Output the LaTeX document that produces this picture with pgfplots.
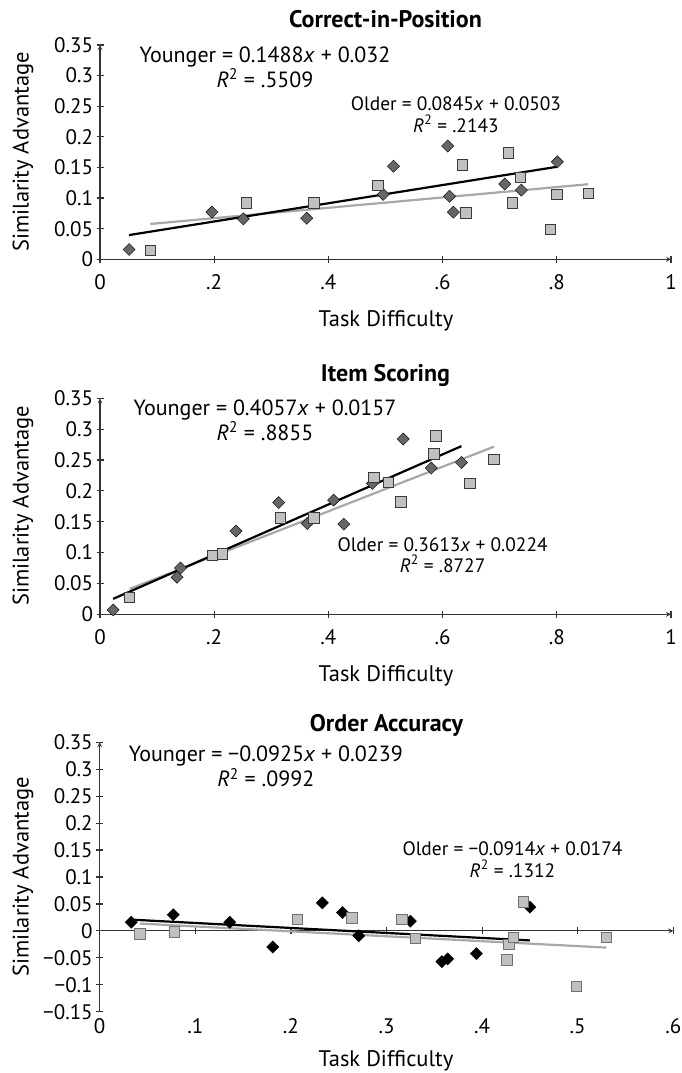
\documentclass[border=0pt]{standalone}
\usepackage{pgfplots}
\pgfplotsset{compat=1.18}
\usepackage{fontspec}
\setmainfont{PT Sans}

\definecolor{young}{HTML}{666666}
\definecolor{oldfill}{HTML}{C0C0C0}
\definecolor{oldedge}{HTML}{3A3A3A}
\definecolor{oldedgeb}{HTML}{707070}
\definecolor{oldline}{HTML}{A8A8A8}
\definecolor{axisgray}{HTML}{333333}

\newcommand{\ticksize}{\fontsize{21}{25}\selectfont}
\newcommand{\labsize}{\fontsize{22.5}{26}\selectfont}
\newcommand{\eqsize}{\fontsize{22}{26}\selectfont}
\newcommand{\eqsmall}{\fontsize{19.4}{23}\selectfont}
\newcommand{\titlesize}{\fontsize{24}{28}\selectfont\bfseries}

\pgfplotsset{
  panel/.style={
    scale only axis, anchor=south west,
    axis line style={axisgray, line width=1.2pt, -},
    tick style={axisgray, line width=1.2pt},
    tick align=outside,
    major tick length=7pt,
    ticklabel style={font=\ticksize},
    /pgf/number format/assume math mode=true,
    clip=false,
  },
  ymark/.style={only marks, mark=square*, mark size=4.3pt,
    mark options={rotate=45, fill=#1, draw=none}},
  ymark/.default=young,
  omark/.style={only marks, mark=square*, mark size=5.2pt,
    mark options={fill=oldfill, draw=#1, line width=0.9pt}},
  omark/.default=oldedge,
  yline/.style={black, line width=2.2pt, no marks},
  oline/.style={oldline, line width=2.2pt, no marks},
}
\tikzset{txt/.style={anchor=base, inner sep=0pt}}

\begin{document}
\begin{tikzpicture}
\path[use as bounding box] (0,0) rectangle (681pt,-1073pt);

% ---- Correct-in-Position
\begin{axis}[panel,
  at={(100pt,-259.3pt)}, width=571pt, height=214.3pt,
  axis lines=left,
  xmin=0, xmax=1, ymin=0, ymax=0.35,
  xtick={0,0.2,0.4,0.6,0.8,1}, xticklabels={0,.2,.4,.6,.8,1},
  ytick={0,0.05,0.1,0.15,0.2,0.25,0.3,0.35},
  yticklabels={0,0.05,0.1,0.15,0.2,0.25,0.3,0.35},
  xticklabel style={anchor=base, yshift=-27pt},
]
\addplot[ymark] coordinates {
(0.051,0.016) (0.196,0.077) (0.251,0.066) (0.362,0.067) (0.496,0.106)
(0.514,0.152) (0.609,0.185) (0.612,0.103) (0.619,0.077) (0.709,0.123)
(0.738,0.113) (0.801,0.159)};
\addplot[omark] coordinates {
(0.088,0.014) (0.256,0.092) (0.375,0.092) (0.487,0.121) (0.635,0.154)
(0.641,0.076) (0.715,0.174) (0.722,0.092) (0.736,0.134) (0.789,0.049)
(0.800,0.106) (0.855,0.108)};
\addplot[oline] coordinates {(0.088,0.0577) (0.855,0.1226)};
\addplot[yline] coordinates {(0.051,0.0396) (0.801,0.1512)};
\end{axis}

% ---- Item Scoring
\begin{axis}[panel,
  at={(100pt,-614.3pt)}, width=571pt, height=216pt,
  axis lines=left,
  xmin=0, xmax=1, ymin=0, ymax=0.35,
  xtick={0,0.2,0.4,0.6,0.8,1}, xticklabels={0,.2,.4,.6,.8,1},
  ytick={0,0.05,0.1,0.15,0.2,0.25,0.3,0.35},
  yticklabels={0,0.05,0.1,0.15,0.2,0.25,0.3,0.35},
  xticklabel style={anchor=base, yshift=-27pt},
]
\addplot[ymark] coordinates {
(0.023,0.007) (0.135,0.060) (0.141,0.075) (0.238,0.135) (0.313,0.181)
(0.363,0.147) (0.409,0.185) (0.427,0.146) (0.477,0.212) (0.531,0.284)
(0.580,0.237) (0.633,0.246)};
\addplot[omark] coordinates {
(0.052,0.027) (0.197,0.095) (0.214,0.098) (0.316,0.156) (0.375,0.156)
(0.480,0.222) (0.505,0.214) (0.527,0.182) (0.585,0.260) (0.588,0.289)
(0.648,0.212) (0.690,0.251)};
\addplot[oline] coordinates {(0.052,0.0412) (0.690,0.2717)};
\addplot[yline] coordinates {(0.023,0.0250) (0.633,0.2725)};
\end{axis}

% ---- Order Accuracy
\begin{axis}[panel,
  at={(99.7pt,-1011.7pt)}, width=573.6pt, height=269.4pt,
  axis y line=left, axis x line=middle,
  hide obscured x ticks=false,
  xmin=0, xmax=0.6, ymin=-0.15, ymax=0.35,
  xtick={0,0.1,0.2,0.3,0.4,0.5,0.6}, xticklabels={0,.1,.2,.3,.4,.5,.6},
  ytick={-0.15,-0.1,-0.05,0,0.05,0.1,0.15,0.2,0.25,0.3,0.35},
  yticklabels={−0.15,−0.1,−0.05,0,0.05,0.1,0.15,0.2,0.25,0.3,0.35},
  xticklabel style={anchor=base, yshift=-98.8pt},
]
\addplot[ymark=black] coordinates {
(0.033,0.016) (0.077,0.030) (0.136,0.016) (0.181,-0.030) (0.233,0.052)
(0.254,0.034) (0.271,-0.009) (0.325,0.018) (0.358,-0.057) (0.364,-0.052)
(0.394,-0.042) (0.450,0.044)};
\addplot[omark=oldedgeb] coordinates {
(0.042,-0.006) (0.078,-0.002) (0.207,0.021) (0.264,0.024) (0.316,0.021)
(0.330,-0.014) (0.426,-0.054) (0.428,-0.025) (0.433,-0.012) (0.443,0.054)
(0.499,-0.103) (0.530,-0.012)};
\addplot[oline] coordinates {(0.042,0.0136) (0.530,-0.0310)};
\addplot[yline] coordinates {(0.033,0.0209) (0.450,-0.0177)};
\end{axis}

% ---- titles
\node[txt, font=\titlesize] at (385.5pt,-28pt) {Correct-in-Position};
\node[txt, font=\titlesize] at (385.5pt,-381.7pt) {Item Scoring};
\node[txt, font=\titlesize] at (386.5pt,-731.7pt) {Order Accuracy};

% ---- axis labels
\foreach \yy in {-326.7,-681.7,-1066} {
  \node[txt, font=\labsize] at (386pt,\yy pt) {Task Difficulty};
}
\foreach \yy in {-152,-506,-877} {
  \node[rotate=90, anchor=center, inner sep=0pt, font=\labsize] at (23pt,\yy pt) {Similarity Advantage};
}

% ---- fitted equations
\node[txt, font=\eqsize] at (265pt,-62.3pt) {Younger = 0.1488\textit{x} + 0.032};
\node[txt, font=\eqsize] at (265pt,-87.3pt) {\textit{R}\textsuperscript{2} = .5509};
\node[txt, font=\eqsmall] at (456pt,-110pt) {Older = 0.0845\textit{x} + 0.0503};
\node[txt, font=\eqsmall] at (456pt,-132.3pt) {\textit{R}\textsuperscript{2} = .2143};

\node[txt, font=\eqsize] at (265pt,-415pt) {Younger = 0.4057\textit{x} + 0.0157};
\node[txt, font=\eqsize] at (265pt,-440pt) {\textit{R}\textsuperscript{2} = .8855};
\node[txt, font=\eqsmall] at (442.6pt,-551.7pt) {Older = 0.3613\textit{x} + 0.0224};
\node[txt, font=\eqsmall] at (442.6pt,-572.3pt) {\textit{R}\textsuperscript{2} = .8727};

\node[txt, font=\eqsize] at (265.8pt,-761pt) {Younger = −0.0925\textit{x} + 0.0239};
\node[txt, font=\eqsize] at (265.8pt,-786.7pt) {\textit{R}\textsuperscript{2} = .0992};
\node[txt, font=\eqsmall] at (512.5pt,-855.7pt) {Older = −0.0914\textit{x} + 0.0174};
\node[txt, font=\eqsmall] at (512.5pt,-877.3pt) {\textit{R}\textsuperscript{2} = .1312};
\end{tikzpicture}
\end{document}
